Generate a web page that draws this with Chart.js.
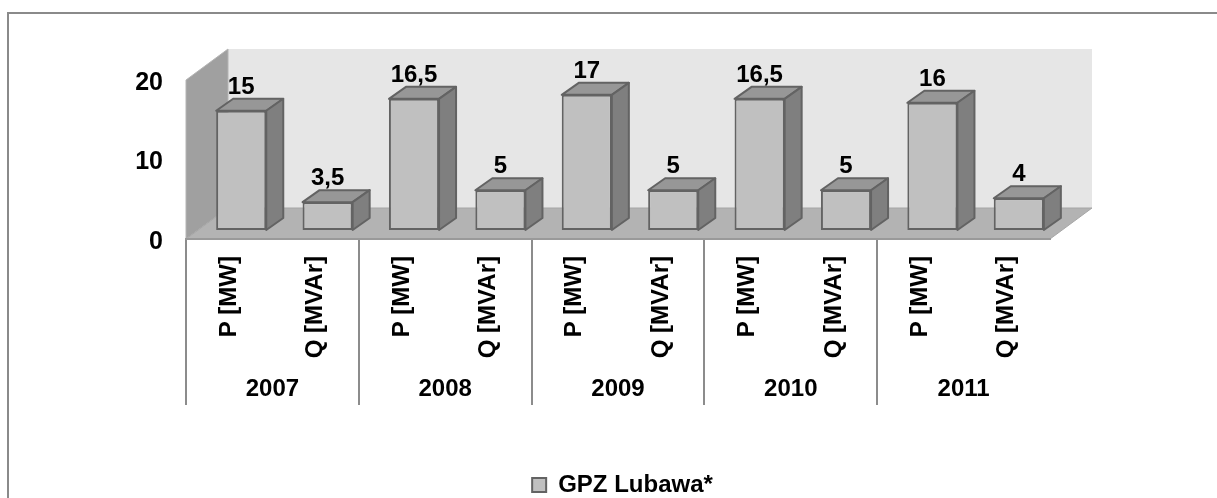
<!DOCTYPE html>
<html><head><meta charset="utf-8">
<script src="https://cdn.jsdelivr.net/npm/chart.js@4.4.1/dist/chart.umd.min.js"></script>
<style>
html,body{margin:0;padding:0;background:#fff;overflow:hidden;width:1217px;height:498px;}
#wrap{position:absolute;left:0;top:0;width:1217px;height:507px;}
</style></head><body>
<div id="wrap"><canvas id="c" width="1217" height="507"></canvas></div>
<script>
// ---- data ----
const seriesName = 'GPZ Lubawa*';
const years = ['2007', '2008', '2009', '2010', '2011'];
const measures = ['P [MW]', 'Q [MVAr]'];
const pValues = [15, 16.5, 17, 16.5, 16];
const qValues = [3.5, 5, 5, 5, 4];
const yTicks = [0, 10, 20];

// ---- build category table ----
const categories = [];
const values = [];
years.forEach((yr, i) => {
  categories.push(measures[0]); values.push(pValues[i]);
  categories.push(measures[1]); values.push(qValues[i]);
});

// ---- style constants ----
const FONT = "'Liberation Sans', Arial, sans-serif";
const WALL = {dx: 42, dy: -31};       // depth of the 3D box
const SHIFT = {dx: 12, dy: -9};       // bars sit inside the depth
const BAR = {dx: 17, dy: -12};        // depth of each bar

function poly(ctx, pts, fill, stroke, lw) {
  ctx.beginPath();
  ctx.moveTo(pts[0][0], pts[0][1]);
  for (let i = 1; i < pts.length; i++) ctx.lineTo(pts[i][0], pts[i][1]);
  ctx.closePath();
  if (fill) { ctx.fillStyle = fill; ctx.fill(); }
  if (stroke) { ctx.strokeStyle = stroke; ctx.lineWidth = lw || 1; ctx.lineJoin = 'round'; ctx.stroke(); }
}

const threeD = {
  id: 'threeD',
  beforeDraw(chart) {
    const {ctx, chartArea: a, scales: {y}} = chart;
    ctx.save();
    ctx.fillStyle = '#8a8a8a';
    ctx.fillRect(7, 12, chart.width, 2);
    ctx.fillRect(7, 12, 2, chart.height);
    const y0 = y.getPixelForValue(yTicks[0]);
    const yT = y.getPixelForValue(yTicks[yTicks.length - 1]);
    const L = a.left, R = a.right;
    ctx.fillStyle = '#e6e6e6';
    ctx.fillRect(L + WALL.dx, yT + WALL.dy, R - L, y0 - yT);
    poly(ctx, [[L, y0], [L, yT], [L + WALL.dx, yT + WALL.dy], [L + WALL.dx, y0 + WALL.dy]], '#a0a0a0', '#b4b4b4', 1);
    poly(ctx, [[L, y0], [R, y0], [R + WALL.dx, y0 + WALL.dy], [L + WALL.dx, y0 + WALL.dy]], '#b3b3b3', '#a6a6a6', 1);
    ctx.restore();
  },
  beforeDatasetsDraw(chart) {
    const ctx = chart.ctx;
    ctx.save();
    ctx.translate(SHIFT.dx, SHIFT.dy);
    chart.getDatasetMeta(0).data.forEach(bar => {
      const {x, y, base, width} = bar.getProps(['x', 'y', 'base', 'width'], true);
      const l = x - width / 2, r = x + width / 2;
      poly(ctx, [[l, y], [r, y], [r + BAR.dx, y + BAR.dy], [l + BAR.dx, y + BAR.dy]], '#979797', '#636363', 2);
      poly(ctx, [[r, y], [r + BAR.dx, y + BAR.dy], [r + BAR.dx, base + BAR.dy], [r, base]], '#7f7f7f', '#636363', 2);
    });
  },
  afterDatasetsDraw(chart) {
    const ctx = chart.ctx;
    const ds = chart.data.datasets[0];
    ctx.font = 'bold 24px ' + FONT;
    ctx.fillStyle = '#000';
    ctx.textAlign = 'center';
    ctx.textBaseline = 'alphabetic';
    chart.getDatasetMeta(0).data.forEach((bar, i) => {
      const {x, y} = bar.getProps(['x', 'y'], true);
      ctx.fillText(String(ds.data[i]).replace('.', ','), x, y + BAR.dy - 5);
    });
    ctx.restore();
  }
};

new Chart(document.getElementById('c'), {
  type: 'bar',
  data: {
    labels: categories,
    datasets: [{
      label: seriesName,
      data: values,
      backgroundColor: '#c0c0c0',
      borderColor: '#636363',
      borderWidth: 2,
      borderSkipped: false,
      barPercentage: 0.58,
      categoryPercentage: 1,
      clip: false,
      xAxisID: 'x',
      yAxisID: 'y'
    }]
  },
  options: {
    responsive: false,
    animation: false,
    devicePixelRatio: 1,
    layout: {padding: {left: 28, right: 0, top: 80, bottom: 0}},
    plugins: {
      legend: {
        position: 'bottom',
        labels: {
          color: '#000',
          font: {family: FONT, size: 24, weight: 'bold'},
          boxWidth: 14, boxHeight: 14, padding: 6
        }
      },
      tooltip: {enabled: false}
    },
    scales: {
      x: {
        type: 'category',
        position: 'bottom',
        weight: 0,
        offset: true,
        grid: {
          display: true, drawOnChartArea: false, drawTicks: true, offset: true,
          tickLength: 166, lineWidth: 2,
          color: ctx => (ctx.index % 2 === 0 ? '#8c8c8c' : 'rgba(0,0,0,0)')
        },
        border: {display: true, color: '#999999', width: 2},
        ticks: {
          color: '#000', autoSkip: false, minRotation: 90, maxRotation: 90,
          padding: 17 - 166,
          font: {family: FONT, size: 24, weight: 'bold'}
        },
        afterFit: s => { s.height = 131; }
      },
      x2: {
        type: 'category',
        position: 'bottom',
        weight: 1,
        labels: years,
        offset: true,
        grid: {display: false, drawTicks: false},
        border: {display: false},
        ticks: {color: '#000', autoSkip: false, maxRotation: 0, padding: 5,
          font: {family: FONT, size: 24, weight: 'bold'}},
        afterFit: s => { s.height = 97; }
      },
      y: {
        type: 'linear',
        position: 'left',
        min: yTicks[0], max: yTicks[yTicks.length - 1],
        grid: {display: false, drawTicks: false},
        border: {display: false},
        afterBuildTicks: s => { s.ticks = yTicks.map(v => ({value: v})); },
        ticks: {color: '#000', padding: 23, labelOffset: 3,
          font: {family: FONT, size: 25, weight: 'bold'}},
        afterFit: s => { s.width = 186 - 28; }
      },
      yR: {
        type: 'linear',
        position: 'right',
        display: true,
        grid: {display: false, drawTicks: false},
        border: {display: false},
        ticks: {display: false},
        afterFit: s => { s.width = 167; }
      }
    }
  },
  plugins: [threeD]
});
</script>
</body></html>
